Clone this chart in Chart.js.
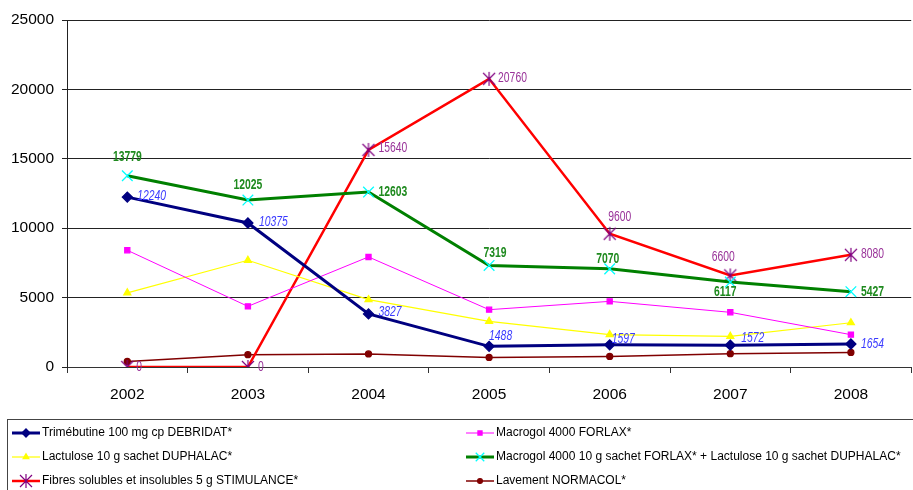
<!DOCTYPE html>
<html>
<head>
<meta charset="utf-8">
<script src="https://cdn.jsdelivr.net/npm/chart.js@4/dist/chart.umd.min.js"></script>
<style>
html, body { margin: 0; padding: 0; background: #fff; overflow: hidden; }
#wrap { position: relative; width: 920px; height: 490px; }
</style>
</head>
<body>
<div id="wrap"><canvas id="chart"></canvas></div>
<script>
// data
const years = ['2002', '2003', '2004', '2005', '2006', '2007', '2008'];
const trimebutine = [12240, 10375, 3827, 1488, 1597, 1572, 1654];
const forlax = [8410, 4370, 7930, 4130, 4730, 3940, 2330];
const lactulose = [5340, 7690, 4850, 3290, 2330, 2210, 3190];
const forlaxLactulose = [13779, 12025, 12603, 7319, 7070, 6117, 5427];
const stimulance = [0, 0, 15640, 20760, 9600, 6600, 8080];
const normacol = [400, 890, 940, 690, 765, 960, 1050];

const seriesNames = [
    'Trimébutine 100 mg cp DEBRIDAT*',
    'Macrogol 4000 FORLAX*',
    'Lactulose 10 g sachet DUPHALAC*',
    'Macrogol 4000 10 g sachet FORLAX* + Lactulose 10 g sachet DUPHALAC*',
    'Fibres solubles et insolubles 5 g STIMULANCE*',
    'Lavement NORMACOL*'
];

// where each value label sits relative to its point [dx, dy, align]
const labelPlaces = {
    0: { color: '#3a3aff', font: 'italic 14px "Liberation Sans", Arial',
         pos: [[10,-1,'left'],[11,-1,'left'],[10,-2,'left'],[0,-10,'left'],[2,-6,'left'],[11,-7,'left'],[10,0,'left']] },
    3: { color: '#1f8a1f', font: 'bold 14px "Liberation Sans", Arial',
         pos: [[0,-19,'center'],[0,-15,'center'],[10,0,'left'],[6,-12,'center'],[-2,-10,'center'],[-5,10,'center'],[10,0,'left']] },
    4: { color: '#993399', font: '14px "Liberation Sans", Arial',
         pos: [[9,0,'left'],[10,0,'left'],[10,-2,'left'],[9,-1,'left'],[10,-17,'center'],[-7,-18,'center'],[10,-1,'left']] }
};

function makeAsterisk(color) {
    const c = document.createElement('canvas');
    c.width = 16; c.height = 16;
    const g = c.getContext('2d');
    g.strokeStyle = color;
    g.lineWidth = 1.2;
    g.beginPath();
    g.moveTo(8, 1); g.lineTo(8, 15);
    g.moveTo(2, 2); g.lineTo(14, 14);
    g.moveTo(14, 2); g.lineTo(2, 14);
    g.stroke();
    return c;
}
const asterisk = makeAsterisk('#800080');

const valueLabels = {
    id: 'valueLabels',
    afterDatasetsDraw(chart) {
        const ctx = chart.ctx;
        ctx.save();
        ctx.textBaseline = 'middle';
        Object.keys(labelPlaces).forEach(k => {
            const i = Number(k);
            const st = labelPlaces[k];
            const meta = chart.getDatasetMeta(i);
            const values = chart.data.datasets[i].data;
            ctx.fillStyle = st.color;
            ctx.font = st.font;
            meta.data.forEach((pt, j) => {
                const p = st.pos[j];
                ctx.save();
                ctx.translate(pt.x + p[0], pt.y + p[1]);
                ctx.scale(0.74, 1);
                ctx.textAlign = p[2];
                ctx.fillText(String(values[j]), 0, 0);
                ctx.restore();
            });
        });
        ctx.restore();
    }
};

const legendCols = [12, 466];
const legendRows = [433, 457, 481];

const boxLegend = {
    id: 'boxLegend',
    afterDraw(chart) {
        const ctx = chart.ctx;
        ctx.save();
        ctx.strokeStyle = '#444';
        ctx.lineWidth = 1;
        ctx.strokeRect(7.5, 419.5, 1000, 100);
        chart.data.datasets.forEach((ds, i) => {
            const x = legendCols[i % 2];
            const y = legendRows[Math.floor(i / 2)];
            ctx.strokeStyle = ds.borderColor;
            ctx.lineWidth = ds.borderWidth;
            ctx.beginPath();
            ctx.moveTo(x, y);
            ctx.lineTo(x + 28, y);
            ctx.stroke();
            ctx.fillStyle = ds.pointBackgroundColor;
            ctx.strokeStyle = ds.pointBorderColor;
            ctx.lineWidth = ds.pointBorderWidth;
            Chart.helpers.drawPoint(ctx, {
                pointStyle: ds.pointStyle,
                radius: ds.pointRadius * 0.8,
                borderWidth: ds.pointBorderWidth,
                rotation: 0
            }, x + 14, y);
            ctx.fillStyle = '#000';
            ctx.font = '12px "Liberation Sans", Arial';
            ctx.textAlign = 'left';
            ctx.textBaseline = 'middle';
            ctx.fillText(ds.label, x + 30, y);
        });
        ctx.restore();
    }
};

function line(idx, values, color, width, style, radius, markFill, markLine) {
    return {
        label: seriesNames[idx],
        data: values,
        borderColor: color,
        borderWidth: width,
        pointStyle: style,
        pointRadius: radius,
        pointBackgroundColor: markFill,
        pointBorderColor: markLine,
        pointBorderWidth: 1.3,
        tension: 0,
        fill: false
    };
}

const tickFont = { family: '"Liberation Sans", Arial', size: 15.5 };

new Chart(document.getElementById('chart').getContext('2d'), {
    type: 'line',
    data: {
        labels: years,
        datasets: [
            line(0, trimebutine, '#000080', 3, 'rectRot', 5, '#000080', '#000080'),
            line(1, forlax, '#ff00ff', 1, 'rect', 3.6, '#ff00ff', '#ff00ff'),
            line(2, lactulose, '#ffff00', 1.2, 'triangle', 4, '#ffff00', '#ffff00'),
            line(3, forlaxLactulose, '#008000', 3, 'crossRot', 7.5, '#00ffff', '#00ffff'),
            line(4, stimulance, '#ff0000', 2.5, asterisk, 7, '#800080', '#800080'),
            line(5, normacol, '#800000', 1.5, 'circle', 3, '#800000', '#800000')
        ]
    },
    options: {
        responsive: true,
        maintainAspectRatio: false,
        animation: false,
        layout: { padding: { top: 20, right: 1, bottom: 83, left: 0 } },
        plugins: {
            legend: { display: false },
            tooltip: { enabled: false }
        },
        scales: {
            x: {
                offset: true,
                grid: { offset: true, drawOnChartArea: false, drawTicks: true, tickLength: 6, color: '#333' },
                border: { color: '#333' },
                ticks: { color: '#000', font: tickFont, padding: 12, maxRotation: 0, autoSkip: false },
                afterFit(scale) { scale.height = 40; }
            },
            y: {
                min: 0,
                max: 25000,
                grid: { color: '#222', tickLength: 5 },
                border: { color: '#222' },
                ticks: {
                    stepSize: 5000, color: '#000', font: tickFont, padding: 8,
                    callback: v => String(v)
                },
                afterFit(scale) { scale.width = 67; }
            }
        }
    },
    plugins: [valueLabels, boxLegend]
});
</script>
</body>
</html>
